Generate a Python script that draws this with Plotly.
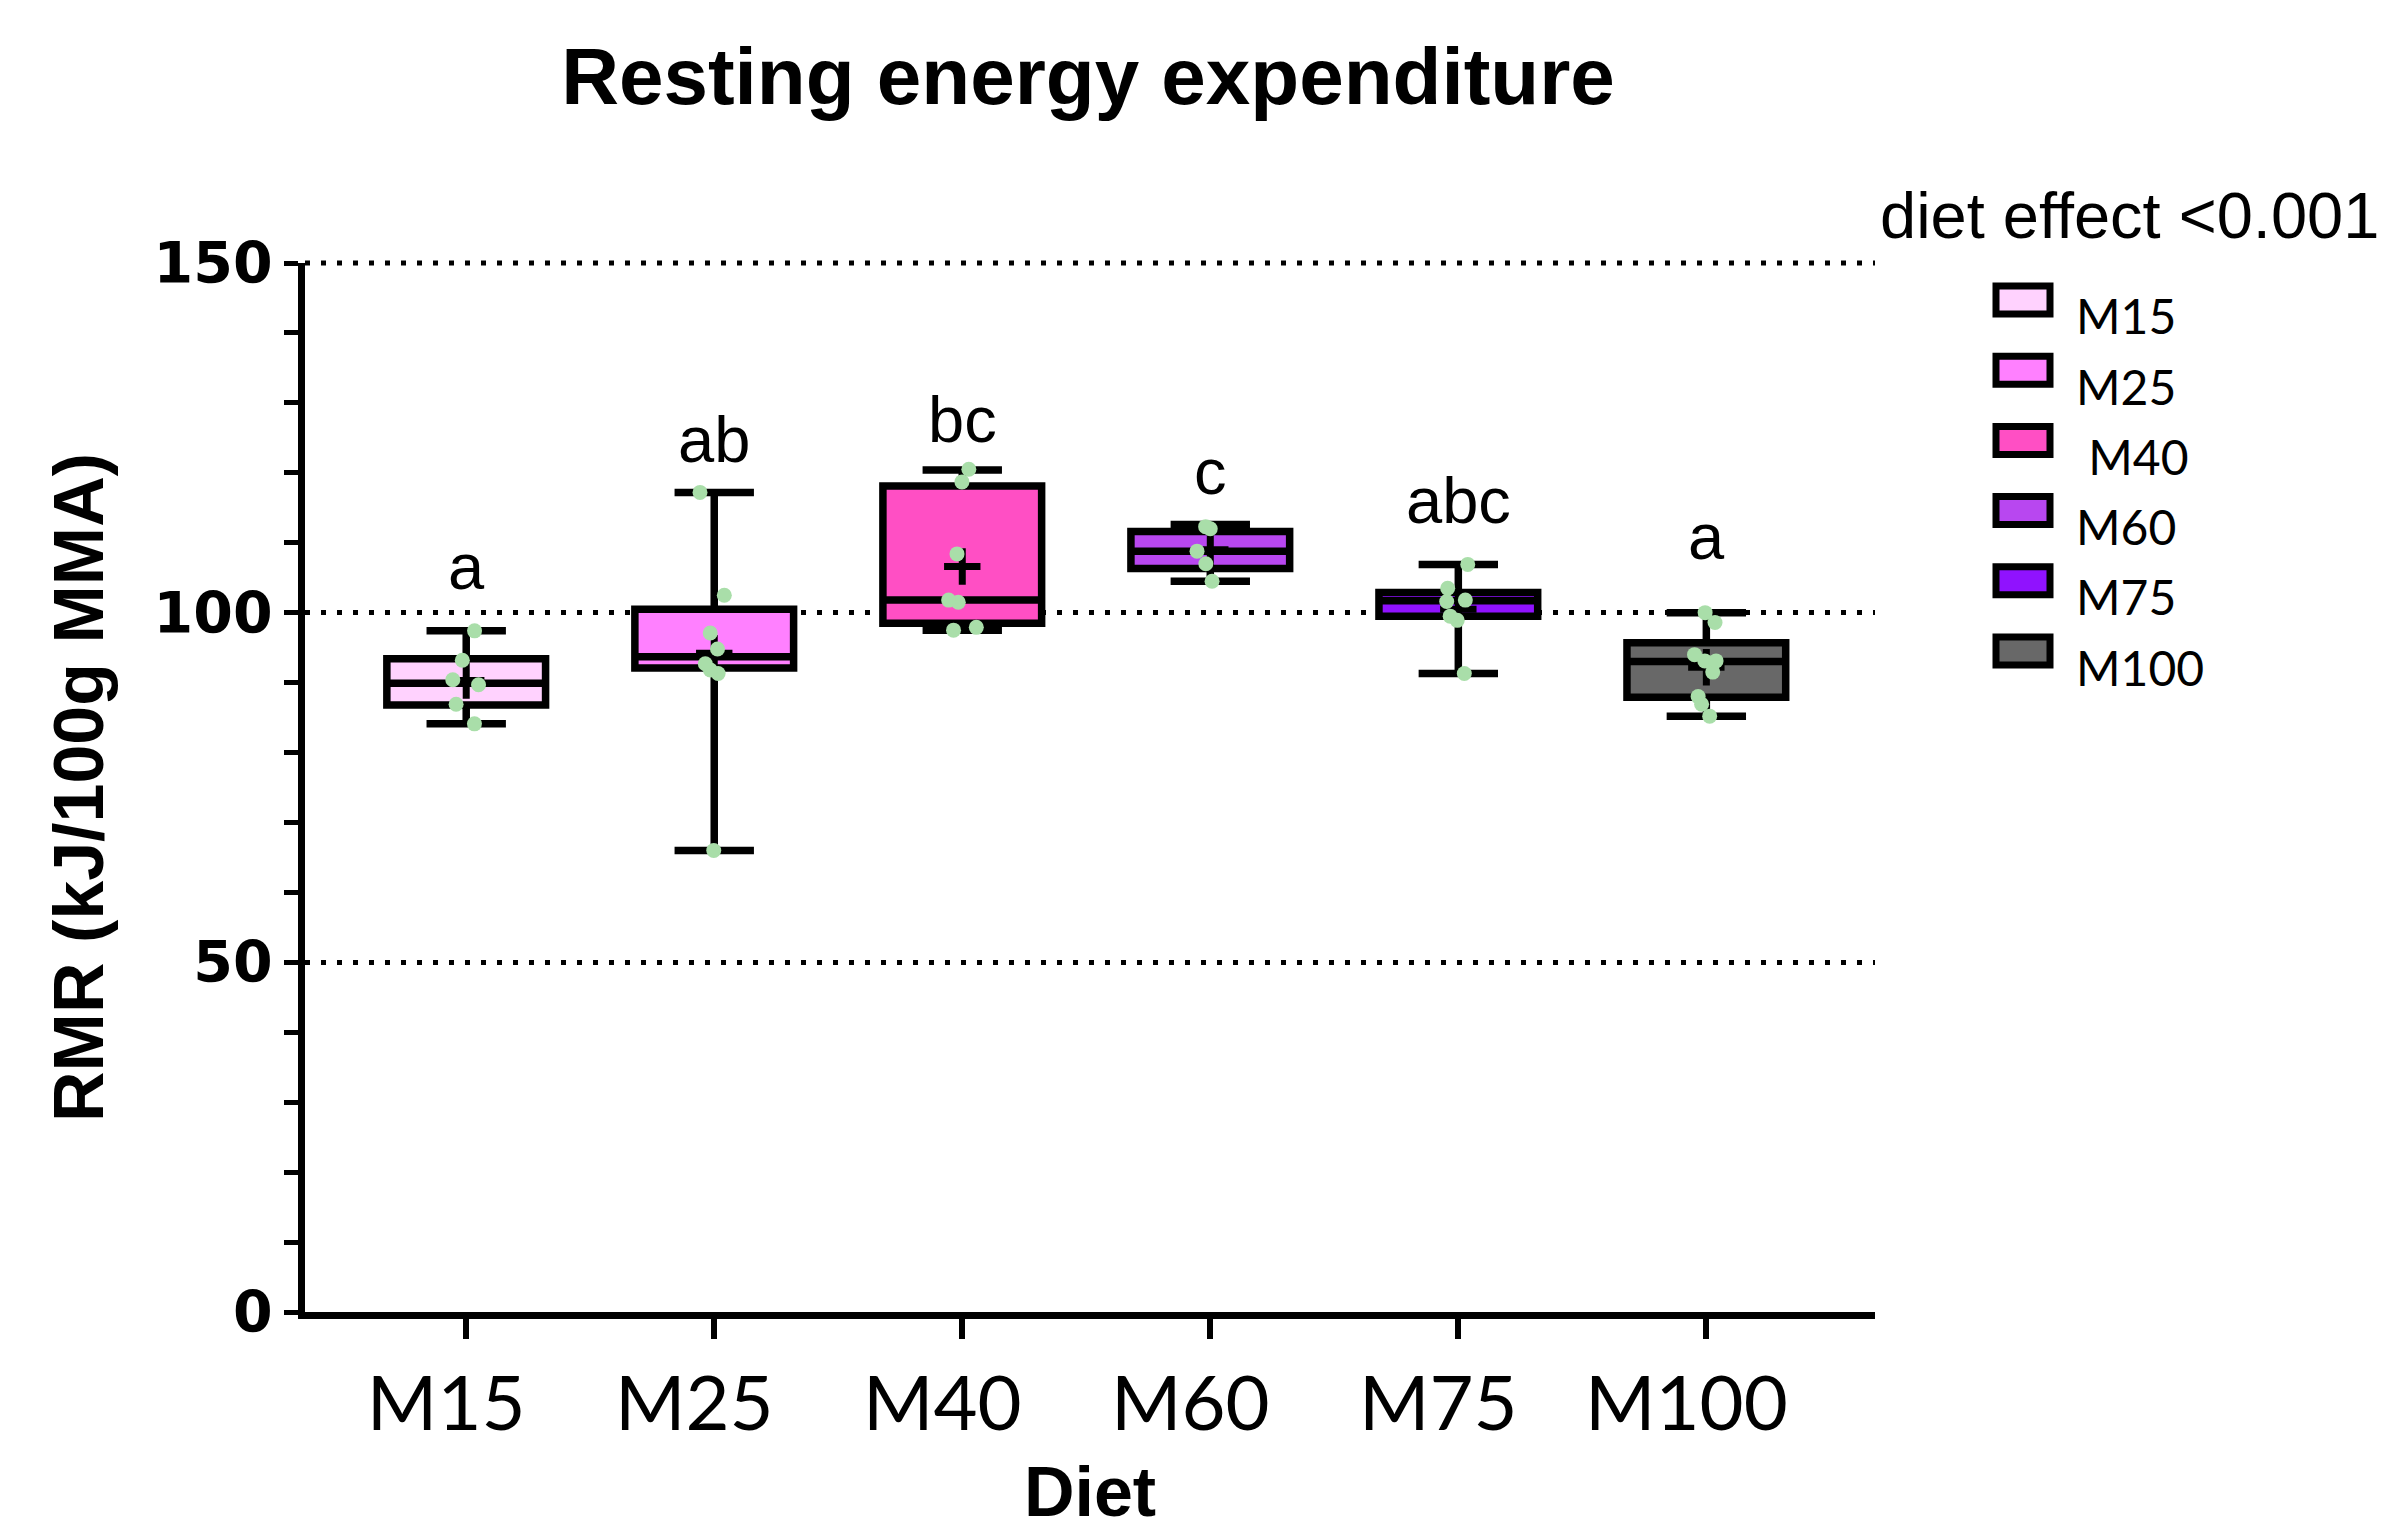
import plotly.graph_objects as go

# ---------------- data ----------------
categories = ["M15", "M25", "M40", "M60", "M75", "M100"]
legend_labels = ["M15", "M25", "\u00a0M40", "M60", "M75", "M100"]
sig_letters = ["a", "ab", "bc", "c", "abc", "a"]
sig_letter_y = [106.6, 124.8, 127.6, 120.2, 116.0, 110.9]

q1_vals = [86.8, 92.1, 98.5, 106.3, 99.5, 87.9]
median_vals = [89.9, 93.7, 101.8, 108.8, 101.7, 93.0]
q3_vals = [93.4, 100.5, 118.1, 111.6, 102.9, 95.7]
lower_vals = [84.1, 66.0, 97.5, 104.5, 91.3, 85.2]
upper_vals = [97.4, 117.2, 120.4, 112.6, 106.9, 100.0]
mean_vals = [90.3, 94.2, 106.6, 109.0, 100.5, 92.2]

points_m15 = [97.4, 93.2, 90.4, 89.7, 86.9, 84.1]
points_m25 = [117.2, 102.5, 97.1, 94.8, 92.7, 91.8, 91.3, 66.0]
points_m40 = [120.5, 118.7, 108.4, 101.8, 101.5, 97.9, 97.5]
points_m60 = [112.3, 112.0, 108.8, 107.0, 104.5]
points_m75 = [106.9, 103.5, 101.8, 101.6, 99.5, 98.9, 91.3]
points_m100 = [100.0, 98.6, 94.0, 93.1, 93.1, 91.5, 88.0, 86.9, 85.2]
point_lists = [points_m15, points_m25, points_m40, points_m60, points_m75, points_m100]

y_range = [0, 150]
y_tick_vals = [0, 50, 100, 150]
y_tick_text = ["0", "50", "100", "150"]

box_colors = ["#FFD2FE", "#FF80FF", "#FF4FC4", "#B847F0", "#9012FE", "#686868"]
point_color = "#A9DEA9"

# ---------------- layout geometry ----------------
W, H = 2400, 1537
ML, MR, MT, MB = 305, 525, 263, 225
PW, PH = W - ML - MR, H - MT - MB


def px_x(x):
    return (x - ML) / PW


def px_y(y):
    return (H - MB - y) / PH


fig = go.Figure()

# boxes from the summary statistics
for i, cat in enumerate(categories):
    fig.add_trace(go.Box(
        x=[cat], q1=[q1_vals[i]], median=[median_vals[i]], q3=[q3_vals[i]],
        lowerfence=[lower_vals[i]], upperfence=[upper_vals[i]],
        fillcolor=box_colors[i], line=dict(color="black", width=7.5),
        whiskerwidth=0.5, width=0.64, boxpoints=False, name=cat,
        showlegend=False, hoverinfo="skip",
    ))

# mean "+" markers (drawn under the individual points)
fig.add_trace(go.Box(
    x=categories, y=mean_vals, boxpoints="all", jitter=0, pointpos=0, width=0.64,
    fillcolor="rgba(0,0,0,0)", line=dict(color="rgba(0,0,0,0)", width=0),
    marker=dict(symbol="cross-thin", size=26, color="black",
                line=dict(color="black", width=7)),
    showlegend=False, hoverinfo="skip",
))

# individual points
x_pts, y_pts = [], []
for cat, pts in zip(categories, point_lists):
    x_pts += [cat] * len(pts)
    y_pts += pts
fig.add_trace(go.Box(
    x=x_pts, y=y_pts, boxpoints="all", jitter=0.2, pointpos=0, width=0.64,
    fillcolor="rgba(0,0,0,0)", line=dict(color="rgba(0,0,0,0)", width=0),
    marker=dict(color=point_color, size=15, line=dict(width=0)),
    showlegend=False, hoverinfo="skip",
))

annotations = []
for cat, letter, ly in zip(categories, sig_letters, sig_letter_y):
    annotations.append(dict(
        x=cat, y=ly, xref="x", yref="y", text=letter, showarrow=False,
        xanchor="center", yanchor="middle",
        font=dict(family="Liberation Sans, Arial", size=65, color="black"),
    ))

# custom legend (large rectangular swatches like the reference)
annotations.append(dict(
    x=px_x(1878), y=px_y(215), xref="paper", yref="paper",
    text="diet effect &lt;0.001", showarrow=False, xanchor="left", yanchor="middle",
    font=dict(family="Liberation Sans, Arial", size=65, color="black"),
))
shapes = []
for i, (lab, col) in enumerate(zip(legend_labels, box_colors)):
    cy = 300 + i * 70.2
    shapes.append(dict(
        type="rect", xref="paper", yref="paper",
        x0=px_x(1996), x1=px_x(2050), y0=px_y(cy + 14), y1=px_y(cy - 14),
        fillcolor=col, line=dict(color="black", width=7), layer="above",
    ))
    annotations.append(dict(
        x=px_x(2074), y=px_y(cy + 16), xref="paper", yref="paper",
        text=lab, showarrow=False, xanchor="left", yanchor="middle",
        font=dict(family="Lato", size=48, color="black"),
    ))

# dotted gridline at the top tick (plotly drops the grid line at the range end)
top_frac = (y_tick_vals[-1] - y_range[0]) / (y_range[1] - y_range[0])
shapes.append(dict(
    type="line", xref="paper", x0=0, x1=1, yref="paper",
    y0=top_frac, y1=top_frac,
    line=dict(color="black", width=5, dash="5px,11px"), layer="above",
))

fig.update_layout(
    width=W, height=H,
    margin=dict(l=ML, r=MR, t=MT, b=MB, pad=0),
    paper_bgcolor="white", plot_bgcolor="white",
    boxmode="overlay",
    showlegend=False,
    title=dict(
        text="Resting energy expenditure", x=1088 / W, xref="container", xanchor="center",
        y=1 - 76 / H, yref="container", yanchor="middle",
        font=dict(family="Liberation Sans, Arial", size=80, color="black", weight="bold"),
    ),
    xaxis=dict(
        type="category", categoryorder="array", categoryarray=categories,
        range=[-0.65, 5.68],
        showline=True, linecolor="black", linewidth=7,
        ticks="outside", ticklen=20, tickwidth=6, tickcolor="black",
        tickfont=dict(family="Lato", size=76, color="black"),
        ticklabelshift=-20,
        showgrid=False, zeroline=False,
        title=dict(text="Diet", standoff=24,
                   font=dict(family="Liberation Sans, Arial", size=70, color="black", weight="bold")),
    ),
    yaxis=dict(
        range=y_range, tickmode="array", tickvals=y_tick_vals, ticktext=y_tick_text,
        showline=True, linecolor="black", linewidth=7,
        ticks="outside", ticklen=14, tickwidth=5, tickcolor="black",
        minor=dict(dtick=10, tick0=0, ticks="outside", ticklen=14, tickwidth=5,
                   tickcolor="black", showgrid=False),
        tickfont=dict(family="DejaVu Sans", size=57, color="black", weight="bold"),
        showgrid=True, gridcolor="black", gridwidth=5, griddash="5px,11px",
        zeroline=False,
        title=dict(text="RMR (kJ/100g MMA)", standoff=30,
                   font=dict(family="Liberation Sans, Arial", size=70, color="black", weight="bold")),
    ),
    annotations=annotations,
    shapes=shapes,
)

fig.write_html("out.html", config={"displayModeBar": False},
               post_script="document.body.style.margin='0';")
